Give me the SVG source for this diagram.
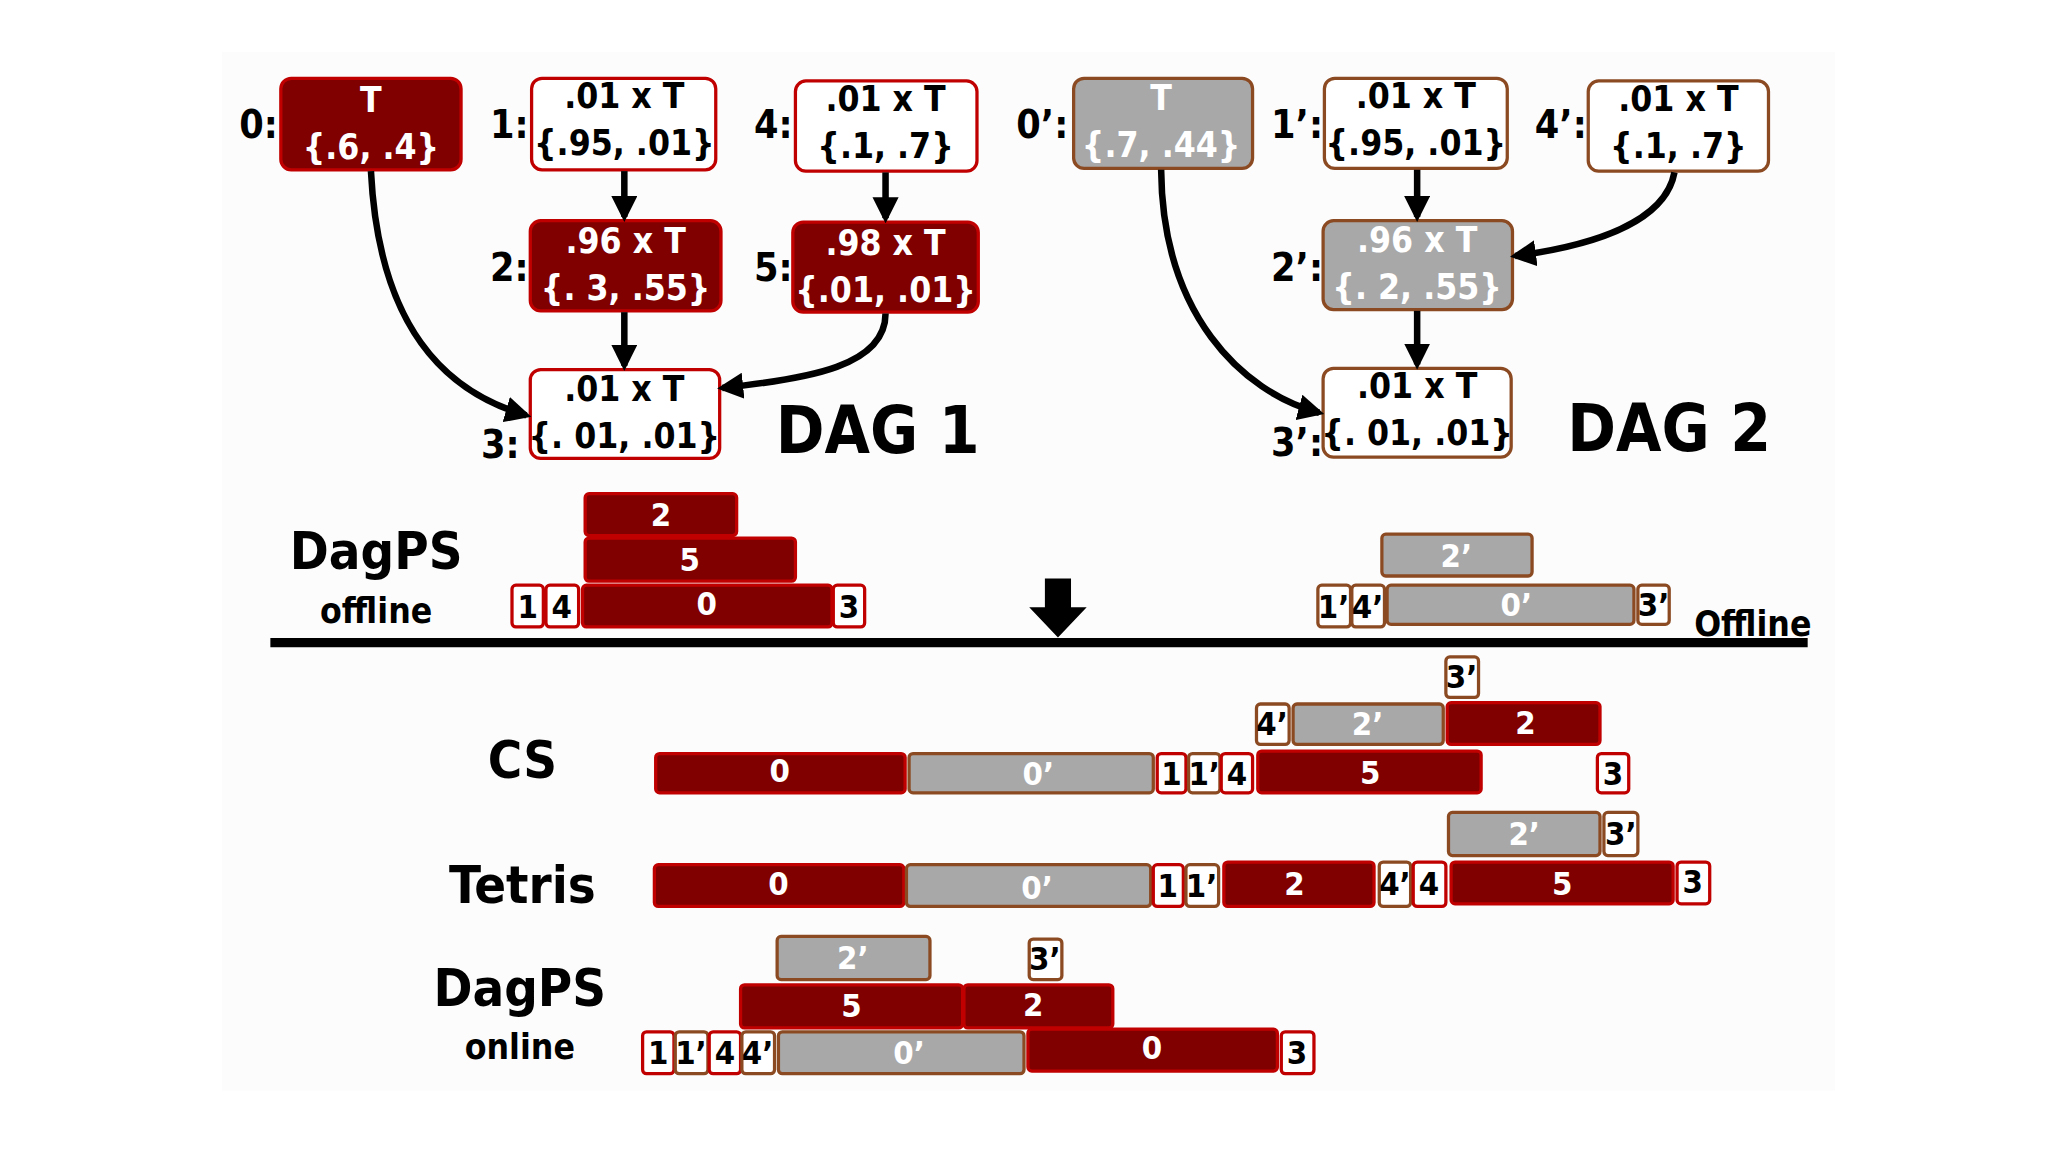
<svg xmlns="http://www.w3.org/2000/svg" width="2048" height="1152" viewBox="0 0 2048 1152">
<defs>
<marker id="ah" viewBox="0 0 10 10" refX="8" refY="5" markerWidth="4" markerHeight="4" orient="auto"><path d="M0,0 L10,5 L0,10 z" fill="#000"/></marker>
<style>
text{font-family:"Liberation Sans Narrow","DejaVu Sans Condensed","Liberation Sans",sans-serif;font-weight:bold;text-anchor:middle}
.dk{fill:#800000;stroke:#c00000;stroke-width:2.5}
.gr{fill:#a8a8a8;stroke:#8b4a22;stroke-width:2.5}
.wr{fill:#fff;stroke:#c00000;stroke-width:2.5}
.wb{fill:#fff;stroke:#8b4a22;stroke-width:2.5}
.nt{font-size:27px;fill:#000}
.ntw{font-size:27px;fill:#fff}
.lb{font-size:30px;fill:#000}
.bt{font-size:25px;fill:#fff}
.bk{font-size:25px;fill:#000}
.con{stroke:#000;stroke-width:5;fill:none;marker-end:url(#ah)}
</style>
</defs>
<rect width="2048" height="1152" fill="#fff"/>
<g transform="scale(1.30612)">
<rect x="170" y="40" width="1235" height="795" fill="#fcfcfc"/>
<g id="n0"><rect class="dk" x="215" y="60" width="138" height="70" rx="8"/><text class="ntw" x="284" y="86">T</text><text class="ntw" x="284" y="122">{.6, .4}</text><text class="lb" x="198" y="106">0:</text></g>
<g id="n1"><rect class="wr" x="407" y="60" width="141" height="70" rx="8"/><text class="nt" x="478" y="83">.01 x T</text><text class="nt" x="478" y="119">{.95, .01}</text><text class="lb" x="390" y="106">1:</text></g>
<g id="n4"><rect class="wr" x="609" y="62" width="139" height="69" rx="8"/><text class="nt" x="678" y="85">.01 x T</text><text class="nt" x="678" y="121">{.1, .7}</text><text class="lb" x="592" y="106">4:</text></g>
<g id="n2"><rect class="dk" x="406" y="169" width="146" height="69" rx="8"/><text class="ntw" x="479" y="194">.96 x T</text><text class="ntw" x="479" y="230">{. 3, .55}</text><text class="lb" x="390" y="215">2:</text></g>
<g id="n5"><rect class="dk" x="607" y="170" width="142" height="69" rx="8"/><text class="ntw" x="678" y="195">.98 x T</text><text class="ntw" x="678" y="231">{.01, .01}</text><text class="lb" x="592" y="215">5:</text></g>
<g id="n3"><rect class="wr" x="406" y="283" width="145" height="68" rx="8"/><text class="nt" x="478" y="307">.01 x T</text><text class="nt" x="478" y="343">{. 01, .01}</text><text class="lb" x="383" y="351">3:</text></g>
<text x="672" y="347" style="font-size:50px">DAG 1</text>
<g id="m0"><rect class="gr" x="822" y="60" width="137" height="69" rx="8"/><text class="ntw" x="889" y="84">T</text><text class="ntw" x="889" y="120">{.7, .44}</text><text class="lb" x="798" y="106">0’:</text></g>
<g id="m1"><rect class="wb" x="1014" y="60" width="140" height="69" rx="8"/><text class="nt" x="1084" y="83">.01 x T</text><text class="nt" x="1084" y="119">{.95, .01}</text><text class="lb" x="993" y="106">1’:</text></g>
<g id="m4"><rect class="wb" x="1216" y="62" width="138" height="69" rx="8"/><text class="nt" x="1285" y="85">.01 x T</text><text class="nt" x="1285" y="121">{.1, .7}</text><text class="lb" x="1195" y="106">4’:</text></g>
<g id="m2"><rect class="gr" x="1013" y="169" width="145" height="68" rx="8"/><text class="ntw" x="1085" y="193">.96 x T</text><text class="ntw" x="1085" y="229">{. 2, .55}</text><text class="lb" x="993" y="215">2’:</text></g>
<g id="m3"><rect class="wb" x="1013" y="282" width="144" height="68" rx="8"/><text class="nt" x="1085" y="305">.01 x T</text><text class="nt" x="1085" y="341">{. 01, .01}</text><text class="lb" x="993" y="349">3’:</text></g>
<text x="1278" y="345" style="font-size:50px">DAG 2</text>
<g id="connectors">
<path class="con" d="M478,131 V166"/>
<path class="con" d="M678,132 V167"/>
<path class="con" d="M478,239 V280"/>
<path class="con" d="M678,240 C678,280 620,290 553,297"/>
<path class="con" d="M284,131 C290,250 340,300 403,318"/>
<path class="con" d="M1085,130 V166"/>
<path class="con" d="M1282,132 C1275,170 1220,188 1160,196"/>
<path class="con" d="M1085,238 V279"/>
<path class="con" d="M889,130 C890,240 950,300 1010,316"/>
</g>
<line x1="207" y1="492" x2="1384" y2="492" stroke="#000" stroke-width="7"/>
<path d="M800,443 H820 V465 H832 L810,488 L788,465 H800 Z" fill="#000"/>
<text x="288" y="436" style="font-size:40px">DagPS</text>
<text x="288" y="477" style="font-size:27px">offline</text>
<text x="1342" y="487" style="font-size:27px">Offline</text>
<text x="400" y="596" style="font-size:40px">CS</text>
<text x="400" y="691" style="font-size:40px">Tetris</text>
<text x="398" y="770" style="font-size:40px">DagPS</text>
<text x="398" y="811" style="font-size:27px">online</text>
<g id="bars">
<rect class="dk" x="448" y="378" width="116" height="32" rx="3"/><text class="bt" x="506" y="403">2</text>
<rect class="dk" x="448" y="412" width="161" height="33" rx="3"/><text class="bt" x="528" y="437">5</text>
<rect class="wr" x="392" y="448" width="24" height="32" rx="3"/><text class="bk" x="404" y="473">1</text>
<rect class="wr" x="418" y="448" width="25" height="32" rx="3"/><text class="bk" x="430" y="473">4</text>
<rect class="dk" x="446" y="448" width="191" height="32" rx="3"/><text class="bt" x="541" y="471">0</text>
<rect class="wr" x="638" y="448" width="24" height="32" rx="3"/><text class="bk" x="650" y="473">3</text>
<rect class="gr" x="1058" y="409" width="115" height="32" rx="3"/><text class="bt" x="1115" y="434">2’</text>
<rect class="wb" x="1009" y="448" width="25" height="32" rx="3"/><text class="bk" x="1021" y="473">1’</text>
<rect class="wb" x="1035" y="448" width="25" height="32" rx="3"/><text class="bk" x="1047" y="473">4’</text>
<rect class="gr" x="1062" y="448" width="189" height="30" rx="3"/><text class="bt" x="1161" y="472">0’</text>
<rect class="wb" x="1254" y="448" width="24" height="30" rx="3"/><text class="bk" x="1266" y="472">3’</text>

<rect class="wb" x="1107" y="503" width="25" height="31" rx="3"/><text class="bk" x="1119" y="527">3’</text>
<rect class="wb" x="962" y="539" width="25" height="31" rx="3"/><text class="bk" x="974" y="563">4’</text>
<rect class="gr" x="990" y="539" width="115" height="31" rx="3"/><text class="bt" x="1047" y="563">2’</text>
<rect class="dk" x="1108" y="538" width="117" height="32" rx="3"/><text class="bt" x="1168" y="562">2</text>
<rect class="dk" x="502" y="577" width="191" height="30" rx="3"/><text class="bt" x="597" y="599">0</text>
<rect class="gr" x="696" y="577" width="187" height="30" rx="3"/><text class="bt" x="795" y="601">0’</text>
<rect class="wr" x="886" y="577" width="22" height="30" rx="3"/><text class="bk" x="897" y="601">1</text>
<rect class="wb" x="910" y="577" width="24" height="30" rx="3"/><text class="bk" x="922" y="601">1’</text>
<rect class="wr" x="935" y="577" width="24" height="30" rx="3"/><text class="bk" x="947" y="601">4</text>
<rect class="dk" x="963" y="575" width="171" height="32" rx="3"/><text class="bt" x="1049" y="600">5</text>
<rect class="wr" x="1223" y="577" width="24" height="30" rx="3"/><text class="bk" x="1235" y="601">3</text>

<rect class="gr" x="1109" y="622" width="116" height="33" rx="3"/><text class="bt" x="1167" y="647">2’</text>
<rect class="wb" x="1228" y="622" width="26" height="33" rx="3"/><text class="bk" x="1241" y="647">3’</text>
<rect class="dk" x="501" y="662" width="191" height="32" rx="3"/><text class="bt" x="596" y="685">0</text>
<rect class="gr" x="694" y="662" width="187" height="32" rx="3"/><text class="bt" x="794" y="688">0’</text>
<rect class="wr" x="883" y="662" width="23" height="32" rx="3"/><text class="bk" x="894" y="687">1</text>
<rect class="wb" x="908" y="662" width="25" height="32" rx="3"/><text class="bk" x="920" y="687">1’</text>
<rect class="dk" x="937" y="660" width="115" height="34" rx="3"/><text class="bt" x="991" y="685">2</text>
<rect class="wb" x="1056" y="660" width="24" height="34" rx="3"/><text class="bk" x="1068" y="685">4’</text>
<rect class="wr" x="1082" y="660" width="25" height="34" rx="3"/><text class="bk" x="1094" y="685">4</text>
<rect class="dk" x="1111" y="660" width="170" height="32" rx="3"/><text class="bt" x="1196" y="685">5</text>
<rect class="wr" x="1284" y="660" width="25" height="32" rx="3"/><text class="bk" x="1296" y="684">3</text>

<rect class="gr" x="595" y="717" width="117" height="33" rx="3"/><text class="bt" x="653" y="742">2’</text>
<rect class="wb" x="788" y="719" width="25" height="31" rx="3"/><text class="bk" x="800" y="743">3’</text>
<rect class="dk" x="567" y="754" width="170" height="33" rx="3"/><text class="bt" x="652" y="779">5</text>
<rect class="dk" x="738" y="754" width="114" height="33" rx="3"/><text class="bt" x="791" y="778">2</text>
<rect class="wr" x="492" y="790" width="24" height="32" rx="3"/><text class="bk" x="504" y="815">1</text>
<rect class="wb" x="517" y="790" width="25" height="32" rx="3"/><text class="bk" x="529" y="815">1’</text>
<rect class="wr" x="543" y="790" width="24" height="32" rx="3"/><text class="bk" x="555" y="815">4</text>
<rect class="wb" x="568" y="790" width="25" height="32" rx="3"/><text class="bk" x="580" y="815">4’</text>
<rect class="gr" x="596" y="790" width="188" height="32" rx="3"/><text class="bt" x="696" y="815">0’</text>
<rect class="dk" x="787" y="788" width="191" height="32" rx="3"/><text class="bt" x="882" y="811">0</text>
<rect class="wr" x="981" y="790" width="25" height="32" rx="3"/><text class="bk" x="993" y="815">3</text>
</g>
</g>
</svg>
